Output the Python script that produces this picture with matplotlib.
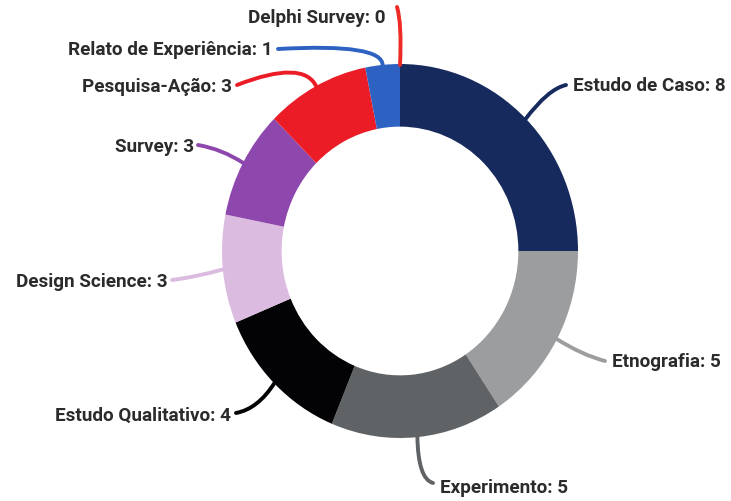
import numpy as np
import matplotlib
matplotlib.use("Agg")
import matplotlib.pyplot as plt
from matplotlib.path import Path
from matplotlib.patches import PathPatch

# Study types, drawn clockwise from 12 o'clock
categories = [
    "Estudo de Caso",
    "Etnografia",
    "Experimento",
    "Estudo Qualitativo",
    "Design Science",
    "Survey",
    "Pesquisa-Ação",
    "Relato de Experiência",
    "Delphi Survey",
]
counts = [8, 5, 5, 4, 3, 3, 3, 1, 0]
colors = [
    "#172a5e",
    "#9b9d9f",
    "#606365",
    "#030204",
    "#dcbbe0",
    "#8e47ad",
    "#ec1c27",
    "#2e62c2",
    "#ee2a24",
]

# Layout in figure pixels (origin top-left)
W, H = 731, 502
CX, CY = 400, 252          # donut centre
RX, RY = 178, 187          # outer radii
HOLE = 0.665               # inner / outer radius

# label anchor (end of leader), bezier control point, text side
leaders = {
    "Estudo de Caso": ((566, 86), (548, 90), "left"),
    "Etnografia": ((605, 362), (582, 356), "left"),
    "Experimento": ((433, 484), (418, 480), "left"),
    "Estudo Qualitativo": ((236, 414), (258, 410), "right"),
    "Design Science": ((172, 281), (196, 278), "right"),
    "Survey": ((198, 146), (222, 150), "right"),
    "Pesquisa-Ação": ((237, 86), (304, 60), "right"),
    "Relato de Experiência": ((278, 50), (384, 44), "right"),
    "Delphi Survey": ((397, 8), (402, 24), "right"),
}
text_pos = {
    "Estudo de Caso": (573, 86),
    "Etnografia": (612, 362),
    "Experimento": (440, 488),
    "Estudo Qualitativo": (231, 416),
    "Design Science": (168, 282),
    "Survey": (194, 147),
    "Pesquisa-Ação": (232, 87),
    "Relato de Experiência": (273, 50),
    "Delphi Survey": (386, 18),
}


def to_data(px, py):
    return (px - CX) / RX, (CY - py) / RY


fig = plt.figure(figsize=(W / 100, H / 100), dpi=100)
ax = fig.add_axes([0, 0, 1, 1])

wedges, _ = ax.pie(
    counts,
    colors=colors,
    startangle=90,
    counterclock=False,
    radius=1.0,
    wedgeprops=dict(width=1 - HOLE, edgecolor="none", linewidth=0),
)

ax.set_aspect("auto")
x0, y0 = to_data(0, H)
x1, y1 = to_data(W, 0)
ax.set_xlim(x0, x1)
ax.set_ylim(y0, y1)
ax.axis("off")

for name, value, color, w in zip(categories, counts, colors, wedges):
    mid = np.deg2rad((w.theta1 + w.theta2) / 2)
    start = (np.cos(mid) * 0.995, np.sin(mid) * 0.995)
    end_px, ctrl_px, side = leaders[name]
    path = Path([start, to_data(*ctrl_px), to_data(*end_px)],
                [Path.MOVETO, Path.CURVE3, Path.CURVE3])
    ax.add_patch(PathPatch(path, facecolor="none", edgecolor=color,
                           lw=2.8, capstyle="round", zorder=3))
    tx, ty = to_data(*text_pos[name])
    ax.text(tx, ty, f"{name}: {value}", ha=side, va="center",
            fontsize=13.6, fontweight="bold", family="Roboto",
            color="#2b2b2b")

fig.savefig("out.png", dpi=100, facecolor="white")
